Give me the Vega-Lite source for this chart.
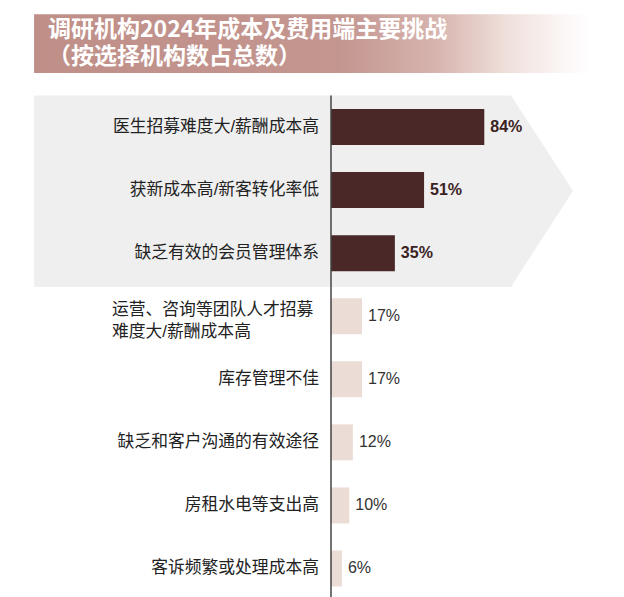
{
  "$schema": "https://vega.github.io/schema/vega-lite/v6.json",
  "width": 624,
  "height": 525,
  "autosize": {"type": "none"},
  "padding": {"top": 72, "left": 0, "right": 0, "bottom": 0},
  "background": "white",
  "config": {"view": {"stroke": null}},
  "datasets": {
    "challenges": [
      {"item": "医生招募难度大/薪酬成本高", "value": 0.84, "rank": 0, "group": "top"},
      {"item": "获新成本高/新客转化率低", "value": 0.51, "rank": 1, "group": "top"},
      {"item": "缺乏有效的会员管理体系", "value": 0.35, "rank": 2, "group": "top"},
      {"item": "运营、咨询等团队人才招募\n难度大/薪酬成本高", "value": 0.17, "rank": 3, "group": "other"},
      {"item": "库存管理不佳", "value": 0.17, "rank": 4, "group": "other"},
      {"item": "缺乏和客户沟通的有效途径", "value": 0.12, "rank": 5, "group": "other"},
      {"item": "房租水电等支出高", "value": 0.10, "rank": 6, "group": "other"},
      {"item": "客诉频繁或处理成本高", "value": 0.06, "rank": 7, "group": "other"}
    ],
    "arrow": [
      {"ax": -1.627, "top": -0.498, "bottom": 2.535},
      {"ax": 0.986, "top": -0.498, "bottom": 2.535},
      {"ax": 1.326, "top": 1.011, "bottom": 1.011}
    ],
    "heading": [
      {"text": "调研机构2024年成本及费用端主要挑战\n（按选择机构数占总数）"}
    ]
  },
  "layer": [
    {
      "data": {"values": [{}]},
      "mark": {
        "type": "rect",
        "color": {
          "gradient": "linear",
          "x1": 0, "y1": 0, "x2": 1, "y2": 0,
          "stops": [
            {"offset": 0, "color": "#bf8f88"},
            {"offset": 0.55, "color": "#c49690"},
            {"offset": 0.72, "color": "#d6b3ad"},
            {"offset": 0.85, "color": "#efdfdb"},
            {"offset": 0.95, "color": "#fbf6f5"},
            {"offset": 1, "color": "#ffffff"}
          ]
        }
      },
      "encoding": {
        "x": {"datum": -1.627, "type": "quantitative", "scale": {"domain": [-1.8137, 1.6055], "nice": false, "zero": false}, "axis": null},
        "x2": {"datum": 1.419},
        "y": {"datum": -1.789, "type": "quantitative", "scale": {"domain": [-0.793, 7.373], "reverse": true, "nice": false, "zero": false}, "axis": null},
        "y2": {"datum": -0.855}
      }
    },
    {
      "data": {"name": "heading"},
      "mark": {"type": "text", "align": "left", "baseline": "middle", "lineBreak": "\n", "lineHeight": 27, "font": "Noto Sans CJK SC", "fontSize": 23, "fontWeight": "bold", "color": "#ffffff"},
      "encoding": {
        "x": {"datum": -1.5507, "type": "quantitative", "scale": {"domain": [-1.8137, 1.6055], "nice": false, "zero": false}, "axis": null},
        "y": {"datum": -1.532, "type": "quantitative", "scale": {"domain": [-0.793, 7.373], "reverse": true, "nice": false, "zero": false}, "axis": null},
        "text": {"field": "text"}
      }
    },
    {
      "data": {"name": "arrow"},
      "mark": {"type": "area", "orient": "vertical", "color": "#efefef"},
      "encoding": {
        "x": {"field": "ax", "type": "quantitative", "scale": {"domain": [-1.8137, 1.6055], "nice": false, "zero": false}, "axis": null},
        "y": {"field": "top", "type": "quantitative", "scale": {"domain": [-0.793, 7.373], "reverse": true, "nice": false, "zero": false}, "axis": null},
        "y2": {"field": "bottom"}
      }
    },
    {
      "data": {"name": "challenges"},
      "mark": {"type": "bar", "orient": "horizontal", "size": 36},
      "encoding": {
        "x": {"field": "value", "type": "quantitative", "scale": {"domain": [-1.8137, 1.6055], "nice": false, "zero": false}, "axis": null},
        "y": {"field": "rank", "type": "quantitative", "scale": {"domain": [-0.793, 7.373], "reverse": true, "nice": false, "zero": false}, "axis": null},
        "color": {"field": "group", "type": "nominal", "scale": {"domain": ["top", "other"], "range": ["#4a2828", "#ecdcd6"]}, "legend": null}
      }
    },
    {
      "data": {"values": [{}]},
      "mark": {"type": "rule", "color": "#444444", "strokeWidth": 1.5},
      "encoding": {
        "x": {"datum": 0, "type": "quantitative", "scale": {"domain": [-1.8137, 1.6055], "nice": false, "zero": false}, "axis": null},
        "y": {"datum": -0.498, "type": "quantitative", "scale": {"domain": [-0.793, 7.373], "reverse": true, "nice": false, "zero": false}, "axis": null},
        "y2": {"datum": 7.6}
      }
    },
    {
      "data": {"name": "challenges"},
      "transform": [{"filter": "datum.rank != 3"}],
      "mark": {"type": "text", "align": "right", "baseline": "middle", "dx": -12, "font": "Liberation Sans, Noto Sans CJK SC", "fontSize": 16.8, "color": "#222222"},
      "encoding": {
        "x": {"datum": 0, "type": "quantitative", "scale": {"domain": [-1.8137, 1.6055], "nice": false, "zero": false}, "axis": null},
        "y": {"field": "rank", "type": "quantitative", "scale": {"domain": [-0.793, 7.373], "reverse": true, "nice": false, "zero": false}, "axis": null},
        "text": {"field": "item"}
      }
    },
    {
      "data": {"name": "challenges"},
      "transform": [{"filter": "datum.rank == 3"}],
      "mark": {"type": "text", "align": "left", "baseline": "middle", "dx": -219, "dy": -6, "lineBreak": "\n", "lineHeight": 22, "font": "Liberation Sans, Noto Sans CJK SC", "fontSize": 16.8, "color": "#222222"},
      "encoding": {
        "x": {"datum": 0, "type": "quantitative", "scale": {"domain": [-1.8137, 1.6055], "nice": false, "zero": false}, "axis": null},
        "y": {"field": "rank", "type": "quantitative", "scale": {"domain": [-0.793, 7.373], "reverse": true, "nice": false, "zero": false}, "axis": null},
        "text": {"field": "item"}
      }
    },
    {
      "data": {"name": "challenges"},
      "transform": [{"filter": "datum.group == 'top'"}],
      "mark": {"type": "text", "align": "left", "baseline": "middle", "dx": 6, "font": "Liberation Sans", "fontSize": 16, "fontWeight": "bold", "color": "#3b2222"},
      "encoding": {
        "x": {"field": "value", "type": "quantitative", "scale": {"domain": [-1.8137, 1.6055], "nice": false, "zero": false}, "axis": null},
        "y": {"field": "rank", "type": "quantitative", "scale": {"domain": [-0.793, 7.373], "reverse": true, "nice": false, "zero": false}, "axis": null},
        "text": {"field": "value", "type": "quantitative", "format": ".0%"}
      }
    },
    {
      "data": {"name": "challenges"},
      "transform": [{"filter": "datum.group == 'other'"}],
      "mark": {"type": "text", "align": "left", "baseline": "middle", "dx": 6, "font": "Liberation Sans", "fontSize": 16, "color": "#333333"},
      "encoding": {
        "x": {"field": "value", "type": "quantitative", "scale": {"domain": [-1.8137, 1.6055], "nice": false, "zero": false}, "axis": null},
        "y": {"field": "rank", "type": "quantitative", "scale": {"domain": [-0.793, 7.373], "reverse": true, "nice": false, "zero": false}, "axis": null},
        "text": {"field": "value", "type": "quantitative", "format": ".0%"}
      }
    }
  ]
}
